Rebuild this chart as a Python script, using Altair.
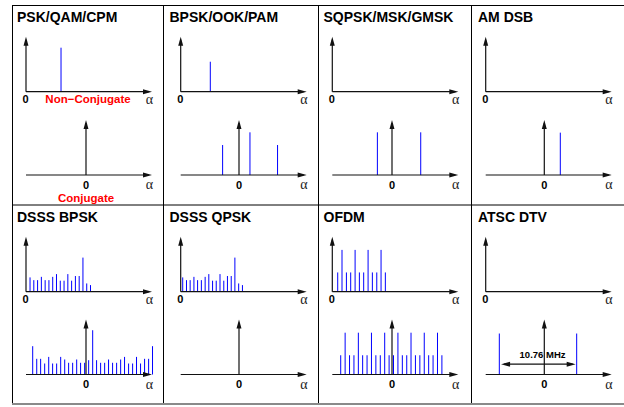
import altair as alt
import pandas as pd

W, H = 624, 407

# ---------------- data ----------------
titles = ["PSK/QAM/CPM", "BPSK/OOK/PAM", "SQPSK/MSK/GMSK", "AM DSB",
          "DSSS BPSK", "DSSS QPSK", "OFDM", "ATSC DTV"]

# alpha: cycle frequency (x-axis length = 1); height: feature strength (y-axis length = 1)
psk_nc_alpha = [0.278]
psk_nc_height = [0.80]

bpsk_nc_alpha = [0.235]
bpsk_nc_height = [0.545]
bpsk_c_alpha = [-0.130, 0.087, 0.306]
bpsk_c_height = [0.545, 0.776, 0.545]

sqpsk_c_alpha = [-0.116, 0.228]
sqpsk_c_height = [0.776, 0.776]

am_c_alpha = [0.127]
am_c_height = [0.77]

dsss_bpsk_nc_alpha = [0.032, 0.062, 0.092, 0.122, 0.152, 0.182, 0.212, 0.242, 0.272,
                      0.302, 0.332, 0.362, 0.392, 0.422, 0.452, 0.482, 0.512]
dsss_bpsk_nc_height = [0.26, 0.21, 0.21, 0.27, 0.21, 0.21, 0.27, 0.32, 0.20,
                       0.20, 0.32, 0.20, 0.285, 0.285, 0.62, 0.15, 0.12]
dsss_bpsk_c_alpha = [-0.423, -0.391, -0.360, -0.328, -0.296, -0.265, -0.233, -0.201,
                     -0.169, -0.138, -0.106, -0.074, -0.043, -0.011, 0.021, 0.053,
                     0.084, 0.116, 0.148, 0.179, 0.211, 0.243, 0.275, 0.306,
                     0.338, 0.370, 0.401, 0.433, 0.465, 0.497, 0.528]
dsss_bpsk_c_height = [0.515, 0.285, 0.285, 0.20, 0.32, 0.20, 0.20, 0.32,
                      0.273, 0.213, 0.213, 0.273, 0.213, 0.213, 0.26, 0.805,
                      0.26, 0.213, 0.213, 0.273, 0.213, 0.213, 0.273, 0.32,
                      0.20, 0.20, 0.32, 0.20, 0.285, 0.285, 0.515]

dsss_qpsk_nc_alpha = [0.016, 0.046, 0.075, 0.105, 0.134, 0.164, 0.194, 0.223, 0.253,
                      0.282, 0.312, 0.342, 0.371, 0.401, 0.430, 0.460, 0.490]
dsss_qpsk_nc_height = [0.26, 0.21, 0.21, 0.27, 0.21, 0.21, 0.27, 0.32, 0.20,
                       0.20, 0.32, 0.20, 0.285, 0.285, 0.62, 0.15, 0.12]

ofdm_nc_alpha = [0.043, 0.077, 0.112, 0.146, 0.181, 0.215, 0.249, 0.284,
                 0.318, 0.353, 0.387, 0.421]
ofdm_nc_height = [0.35, 0.76, 0.35, 0.35, 0.76, 0.35, 0.35, 0.76, 0.35, 0.35, 0.76, 0.35]
ofdm_c_alpha = [-0.407, -0.372, -0.337, -0.302, -0.267, -0.233, -0.198, -0.163,
                -0.128, -0.093, -0.058, -0.023, 0.012, 0.047, 0.082, 0.117,
                0.151, 0.186, 0.221, 0.256, 0.291, 0.326, 0.361, 0.396]
ofdm_c_height = [0.35, 0.76, 0.35, 0.35, 0.76, 0.35, 0.35, 0.76,
                 0.35, 0.35, 0.76, 0.35, 0.35, 0.76, 0.35, 0.35,
                 0.76, 0.35, 0.35, 0.76, 0.35, 0.35, 0.76, 0.35]

atsc_c_alpha = [-0.357, 0.257]
atsc_c_height = [0.745, 0.745]
atsc_span = [-0.343, 0.249]       # arrowed separation between the two features
atsc_span_label = "10.76 MHz"

series = [
    # (panel, conjugate?, alpha, height)
    (0, False, psk_nc_alpha, psk_nc_height),
    (1, False, bpsk_nc_alpha, bpsk_nc_height),
    (1, True, bpsk_c_alpha, bpsk_c_height),
    (2, True, sqpsk_c_alpha, sqpsk_c_height),
    (3, True, am_c_alpha, am_c_height),
    (4, False, dsss_bpsk_nc_alpha, dsss_bpsk_nc_height),
    (4, True, dsss_bpsk_c_alpha, dsss_bpsk_c_height),
    (5, False, dsss_qpsk_nc_alpha, dsss_qpsk_nc_height),
    (6, False, ofdm_nc_alpha, ofdm_nc_height),
    (6, True, ofdm_c_alpha, ofdm_c_height),
    (7, True, atsc_c_alpha, atsc_c_height),
]

# ---------------- layout (pixels) ----------------
SX, SY = 126.0, 55.0
col_xl = [26.0, 180.7, 332.3, 485.7]        # left end of every alpha axis
col_c0 = [86.0, 239.0, 392.0, 544.3]        # alpha = 0 of conjugate plots
row_nc_base = [91.7, 291.7]
row_c_base = [175.0, 374.5]
border_x = [12.5, 163.5, 318.5, 471.5]
title_x = [17.0, 169.5, 323.5, 478.0]
title_y = [21.7, 221.7]


def origin(p, conj):
    r, c = divmod(p, 4)
    if conj:
        return col_c0[c], row_c_base[r]
    return col_xl[c], row_nc_base[r]


rows = []
for p, conj, al, hh in series:
    ox, oy = origin(p, conj)
    for a, h in zip(al, hh):
        rows.append({"ox": ox, "oy": oy, "alpha": a, "height": h})
lines_df = pd.DataFrame(rows)

axis_rows, head_rows, zero_rows, alpha_rows = [], [], [], []
for p in range(8):
    r, c = divmod(p, 4)
    xl = col_xl[c]
    for conj in (False, True):
        ox, oy = origin(p, conj)
        # vertical axis
        axis_rows.append({"x": ox, "y": oy, "x2": ox, "y2": oy - SY + 3})
        head_rows.append({"x": ox, "y": oy - SY, "ang": 0})
        # alpha axis
        axis_rows.append({"x": xl, "y": oy, "x2": xl + SX - 3, "y2": oy})
        head_rows.append({"x": xl + SX, "y": oy, "ang": 90})
        zero_rows.append({"x": ox - (0.5 if not conj else 0), "y": oy + (11.7 if not conj else 13.5), "t": "0"})
        alpha_rows.append({"x": xl + SX - 2.7, "y": oy + (12.6 if not conj else 14.3), "t": "α"})

# ATSC separation arrow
ax0, ay0 = origin(7, True)
span_y = ay0 - 0.187 * SY
axis_rows.append({"x": ax0 + atsc_span[0] * SX + 3, "y": span_y,
                  "x2": ax0 + atsc_span[1] * SX - 3, "y2": span_y})
head_rows.append({"x": ax0 + atsc_span[0] * SX, "y": span_y, "ang": 270})
head_rows.append({"x": ax0 + atsc_span[1] * SX, "y": span_y, "ang": 90})

axis_df = pd.DataFrame(axis_rows)
head_df = pd.DataFrame(head_rows)
zero_df = pd.DataFrame(zero_rows)
alpha_df = pd.DataFrame(alpha_rows)

title_df = pd.DataFrame([{"x": title_x[p % 4], "y": title_y[p // 4], "t": titles[p]} for p in range(8)])
red_df = pd.DataFrame([
    {"x": 88.0, "y": 103.3, "t": "Non\u2212Conjugate"},
    {"x": 86.0, "y": 201.5, "t": "Conjugate"},
])
mhz_df = pd.DataFrame([{"x": ax0 + (-0.014) * SX, "y": span_y - 6.5, "t": atsc_span_label}])

border_df = pd.DataFrame(
    [{"x": bx, "y": 5, "x2": bx, "y2": 404} for bx in border_x]
    + [{"x": 12, "y": 5.5, "x2": W, "y2": 5.5},
       {"x": 12, "y": 205, "x2": W, "y2": 205}]
)
bottom_df = pd.DataFrame([{"x": 12, "y": 404, "x2": W, "y2": 404}])

# ---------------- chart ----------------
xs = alt.Scale(domain=[0, W], range=[0, W], nice=False, zero=False)
ys = alt.Scale(domain=[0, H], range=[0, H], nice=False, zero=False)


def X(f):
    return alt.X(f, type="quantitative", scale=xs, axis=None)


def Y(f):
    return alt.Y(f, type="quantitative", scale=ys, axis=None)


ARROW = "M0,0L0.55,2L-0.55,2Z"
SANS = "Liberation Sans"

lines = alt.Chart(lines_df).transform_calculate(
    px="datum.ox + datum.alpha * %g" % SX,
    top="datum.oy - datum.height * %g" % SY,
).mark_rule(color="#0000ff", strokeWidth=1).encode(x=X("px"), y=Y("oy"), y2="top:Q")

borders = alt.Chart(border_df).mark_rule(color="#000000", strokeWidth=1).encode(
    x=X("x"), y=Y("y"), x2="x2:Q", y2="y2:Q")
bottom = alt.Chart(bottom_df).mark_rule(color="#8a8a8a", strokeWidth=2).encode(
    x=X("x"), y=Y("y"), x2="x2:Q", y2="y2:Q")
axes = alt.Chart(axis_df).mark_rule(color="#111111", strokeWidth=1.2).encode(
    x=X("x"), y=Y("y"), x2="x2:Q", y2="y2:Q")
heads = alt.Chart(head_df).mark_point(shape=ARROW, filled=True, size=81, color="#111111",
                                      opacity=1, strokeWidth=0).encode(
    x=X("x"), y=Y("y"), angle=alt.Angle("ang:Q", scale=None))

titles_l = alt.Chart(title_df).mark_text(align="left", baseline="alphabetic", font=SANS,
                                         fontWeight="bold", fontSize=14, color="#000000").encode(
    x=X("x"), y=Y("y"), text="t:N")
zeros = alt.Chart(zero_df).mark_text(align="center", baseline="alphabetic", font=SANS,
                                     fontWeight="bold", fontSize=11, color="#000000").encode(
    x=X("x"), y=Y("y"), text="t:N")
alphas = alt.Chart(alpha_df).mark_text(align="center", baseline="alphabetic", font="Liberation Serif",
                                       fontSize=14, color="#222222").encode(
    x=X("x"), y=Y("y"), text="t:N")
reds = alt.Chart(red_df).mark_text(align="center", baseline="alphabetic", font=SANS,
                                   fontWeight="bold", fontSize=11.5, color="#ff0000").encode(
    x=X("x"), y=Y("y"), text="t:N")
mhz = alt.Chart(mhz_df).mark_text(align="center", baseline="alphabetic", font=SANS,
                                  fontWeight="bold", fontSize=9.5, color="#000000").encode(
    x=X("x"), y=Y("y"), text="t:N")

chart = alt.layer(borders, bottom, lines, axes, heads, titles_l, zeros, alphas, reds, mhz).properties(
    width=W, height=H, padding=0, autosize="none", background="#ffffff"
).configure_view(stroke=None)

chart.save("out.html", embed_options={"renderer": "svg", "actions": False})
